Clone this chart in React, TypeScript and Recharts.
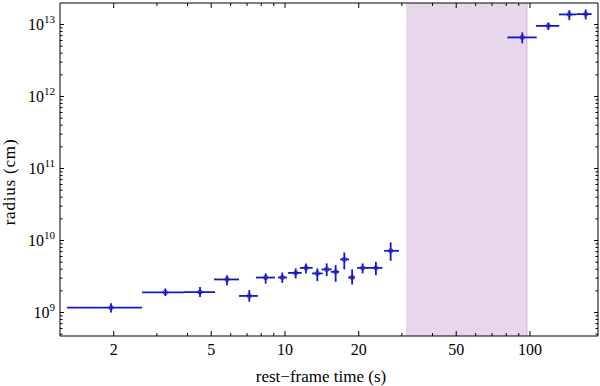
import React from "react";
import {
  ScatterChart, Scatter, XAxis, YAxis, ErrorBar,
  ReferenceArea, ReferenceLine, Label
} from "recharts";

// rest-frame time (s): centre, lower and upper edge of each bin
const time = [1.95, 3.25, 4.5, 5.8, 7.15, 8.34, 9.75, 11.06, 12.18, 13.55, 14.8, 16.1, 17.46, 18.8, 20.75, 23.5, 27.0, 93.0, 118.8, 144.7, 168.8];
const timeLo = [1.29, 2.61, 3.87, 5.13, 6.49, 7.61, 9.36, 10.3, 11.5, 12.9, 14.1, 15.4, 16.8, 18.1, 19.7, 21.6, 25.4, 80.8, 105.8, 131.3, 155.1];
const timeHi = [2.61, 3.87, 5.18, 6.49, 7.76, 9.1, 10.19, 11.7, 12.97, 14.25, 15.5, 16.65, 18.25, 19.3, 21.8, 25.0, 29.2, 106.5, 131.7, 155.1, 178.5];

// radius (cm) with lower / upper limits
const radius = [1.17e9, 1.9e9, 1.92e9, 2.88e9, 1.7e9, 3.06e9, 3.07e9, 3.55e9, 4.17e9, 3.49e9, 3.97e9, 3.67e9, 5.47e9, 3.07e9, 4.17e9, 4.17e9, 7.2e9, 6.62e12, 9.58e12, 1.38e13, 1.395e13];
const radiusLo = [1.0e9, 1.69e9, 1.64e9, 2.4e9, 1.41e9, 2.52e9, 2.58e9, 2.98e9, 3.49e9, 2.73e9, 3.2e9, 2.67e9, 3.97e9, 2.45e9, 3.49e9, 3.3e9, 5.22e9, 5.47e12, 8.37e12, 1.15e13, 1.175e13];
const radiusHi = [1.34e9, 2.16e9, 2.26e9, 3.3e9, 2.05e9, 3.49e9, 3.6e9, 4.1e9, 4.81e9, 4.1e9, 4.81e9, 4.56e9, 6.83e9, 3.97e9, 4.81e9, 5.06e9, 9.4e9, 7.77e12, 1.07e13, 1.584e13, 1.62e13];

// shaded interval (s)
const shade = [31.2, 97.2];

const xDomain = [1.207, 189.5];
const yDomain = [4.72e8, 1.99e13];
const xTicks = [2, 3, 4, 5, 6, 7, 8, 9, 10, 20, 30, 40, 50, 60, 70, 80, 90, 100];
const xLabels = [2, 5, 10, 20, 50, 100];
const yMajor = [1e9, 1e10, 1e11, 1e12, 1e13];
const minorSteps = [2, 3, 4, 5, 6, 7, 8, 9];
const yTicks = [5e8, 6e8, 7e8, 8e8, 9e8, ...yMajor.slice(0, 4).flatMap((d) => [d, ...minorSteps.map((m) => m * d)]), 1e13];

const data = time.map((t, i) => ({
  x: t,
  y: radius[i],
  ex: [t - timeLo[i], timeHi[i] - t],
  ey: [radius[i] - radiusLo[i], radiusHi[i] - radius[i]],
}));

const BLUE = "#1616c4";
const FONT = "Liberation Serif, DejaVu Serif, serif";
const txt = (size: number) => ({ fontFamily: FONT, fontSize: size, fill: "#000" });

const isPow10 = (v: number) => Math.abs(Math.log10(v) - Math.round(Math.log10(v))) < 1e-9;

function XTick({ x, y, payload, side }: any) {
  const v = payload.value;
  const major = xLabels.includes(v);
  const len = major ? 5 : 3;
  const dir = side === "bottom" ? -1 : 1;
  return (
    <g>
      <line x1={x} x2={x} y1={y} y2={y + dir * len} stroke="#000" strokeWidth={1} />
      {side === "bottom" && major && (
        <text x={x} y={y + 19} textAnchor="middle" style={txt(16)}>
          {v}
        </text>
      )}
    </g>
  );
}

function YTick({ x, y, payload, side }: any) {
  const v = payload.value;
  const major = isPow10(v);
  const len = major ? 4 : 2.5;
  const dir = side === "left" ? 1 : -1;
  return (
    <g>
      <line x1={x} x2={x + dir * len} y1={y} y2={y} stroke="#000" strokeWidth={1} />
      {side === "left" && major && (
        <text x={x - 5} y={y + 5} textAnchor="end" style={txt(16)}>
          10
          <tspan dy={-7} style={{ fontSize: 11 }}>{Math.round(Math.log10(v))}</tspan>
        </text>
      )}
    </g>
  );
}

const Marker = (p: any) => (
  <circle cx={p.cx} cy={p.cy} r={2.2} fill="none" stroke={BLUE} strokeWidth={0.8} />
);

export default function App() {
  return (
    <div style={{ position: "absolute", left: 0, top: 0, width: 600, height: 386, background: "#fff" }}>
      <ScatterChart width={600} height={386} margin={{ top: 2, right: 1, bottom: 0, left: 0 }}>
        <XAxis
          xAxisId="b" orientation="bottom" height={50}
          type="number" scale="log" dataKey="x"
          domain={xDomain} allowDataOverflow
          ticks={xTicks} interval={0}
          tickSize={0} tickMargin={0} tickLine={false}
          axisLine={{ stroke: "#000" }}
          tick={(p: any) => <XTick {...p} side="bottom" />}
        >
          <Label
            content={() => (
              <text x={321} y={382} textAnchor="middle" style={txt(17)}>
                rest−frame time (s)
              </text>
            )}
          />
        </XAxis>
        <XAxis
          xAxisId="t" orientation="top" height={1}
          type="number" scale="log" dataKey="x"
          domain={xDomain} allowDataOverflow
          ticks={xTicks} interval={0}
          tickSize={0} tickMargin={0} tickLine={false}
          axisLine={{ stroke: "#000" }}
          tick={(p: any) => <XTick {...p} side="top" />}
        />
        <YAxis
          yAxisId="l" orientation="left" width={60}
          type="number" scale="log" dataKey="y"
          domain={yDomain} allowDataOverflow
          ticks={yTicks} interval={0}
          tickSize={0} tickMargin={0} tickLine={false}
          axisLine={{ stroke: "#000" }}
          tick={(p: any) => <YTick {...p} side="left" />}
        >
          <Label
            content={() => (
              <text
                x={15} y={182} textAnchor="middle" style={{ ...txt(17), letterSpacing: 0.8 }}
                transform="rotate(-90, 15, 182)"
              >
                radius (cm)
              </text>
            )}
          />
        </YAxis>
        <YAxis
          yAxisId="r" orientation="right" width={1}
          type="number" scale="log" dataKey="y"
          domain={yDomain} allowDataOverflow
          ticks={yTicks} interval={0}
          tickSize={0} tickMargin={0} tickLine={false}
          axisLine={{ stroke: "#000" }}
          tick={(p: any) => <YTick {...p} side="right" />}
        />
        <ReferenceArea
          xAxisId="b" yAxisId="l"
          x1={shade[0]} x2={shade[1]}
          fill="#e8d6ea" fillOpacity={1} stroke="none"
        />
        <ReferenceLine xAxisId="b" yAxisId="l" x={shade[1]} stroke="#cfb3d4" strokeWidth={1} />
        <Scatter
          xAxisId="b" yAxisId="l"
          data={data} shape={Marker}
          isAnimationActive={false}
        >
          <ErrorBar dataKey="ex" direction="x" width={0} stroke={BLUE} strokeWidth={1.8} isAnimationActive={false} />
          <ErrorBar dataKey="ey" direction="y" width={0} stroke={BLUE} strokeWidth={1.8} isAnimationActive={false} />
        </Scatter>
      </ScatterChart>
    </div>
  );
}
